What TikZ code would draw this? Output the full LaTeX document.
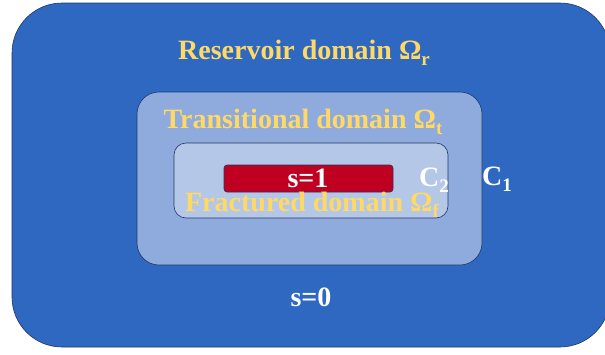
\documentclass[tikz,border=0pt]{standalone}
\usepackage{fontspec}
\setmainfont{Liberation Serif}
\usetikzlibrary{positioning}
\definecolor{resblue}{HTML}{2E68C0}
\definecolor{transblue}{HTML}{8FAADC}
\definecolor{fracblue}{HTML}{B4C7E7}
\definecolor{edgeblue}{HTML}{1F3864}
\definecolor{fracred}{HTML}{C00020}
\definecolor{lblyellow}{HTML}{FFD966}
\newcommand{\dsub}[1]{\raisebox{-0.22em}{\fontsize{19}{20}\selectfont #1}}

\begin{document}
\begin{tikzpicture}[x=1pt,y=-1pt,
    domainbox/.style={draw=edgeblue,line width=0.6pt},
    lbl/.style={font=\fontsize{28}{32}\selectfont\bfseries,inner sep=0pt,anchor=base},
    yellowlbl/.style={lbl,text=lblyellow},
    whitelbl/.style={lbl,text=white}]

    \clip (0,0) rectangle (605,354);

    % domains
    \draw[domainbox,fill=resblue,rounded corners=50pt] (12,3) rectangle (610,347);
    \draw[domainbox,fill=transblue,rounded corners=22pt] (137,92) rectangle (482,265);
    \draw[domainbox,fill=fracblue,rounded corners=12pt] (174,143) rectangle (448,218);
    \draw[domainbox,fill=fracred,rounded corners=3pt] (224,165) rectangle (393,192);

    % labels
    \node[yellowlbl] (res) at (304,59) {Reservoir domain Ω\dsub{r}};
    \node[yellowlbl] (trans) at (303,128) {Transitional domain Ω\dsub{t}};
    \node[yellowlbl] (frac) at (312,211) {Fractured domain Ω\dsub{f}};
    \node[whitelbl] (s1) at (308,187) {s=1};
    \node[whitelbl] (s0) at (311,306) {s=0};
    \node[whitelbl] (c2) at (434,186) {C\dsub{2}};
    \node[whitelbl] (c1) at (497,185) {C\dsub{1}};

\end{tikzpicture}
\end{document}
